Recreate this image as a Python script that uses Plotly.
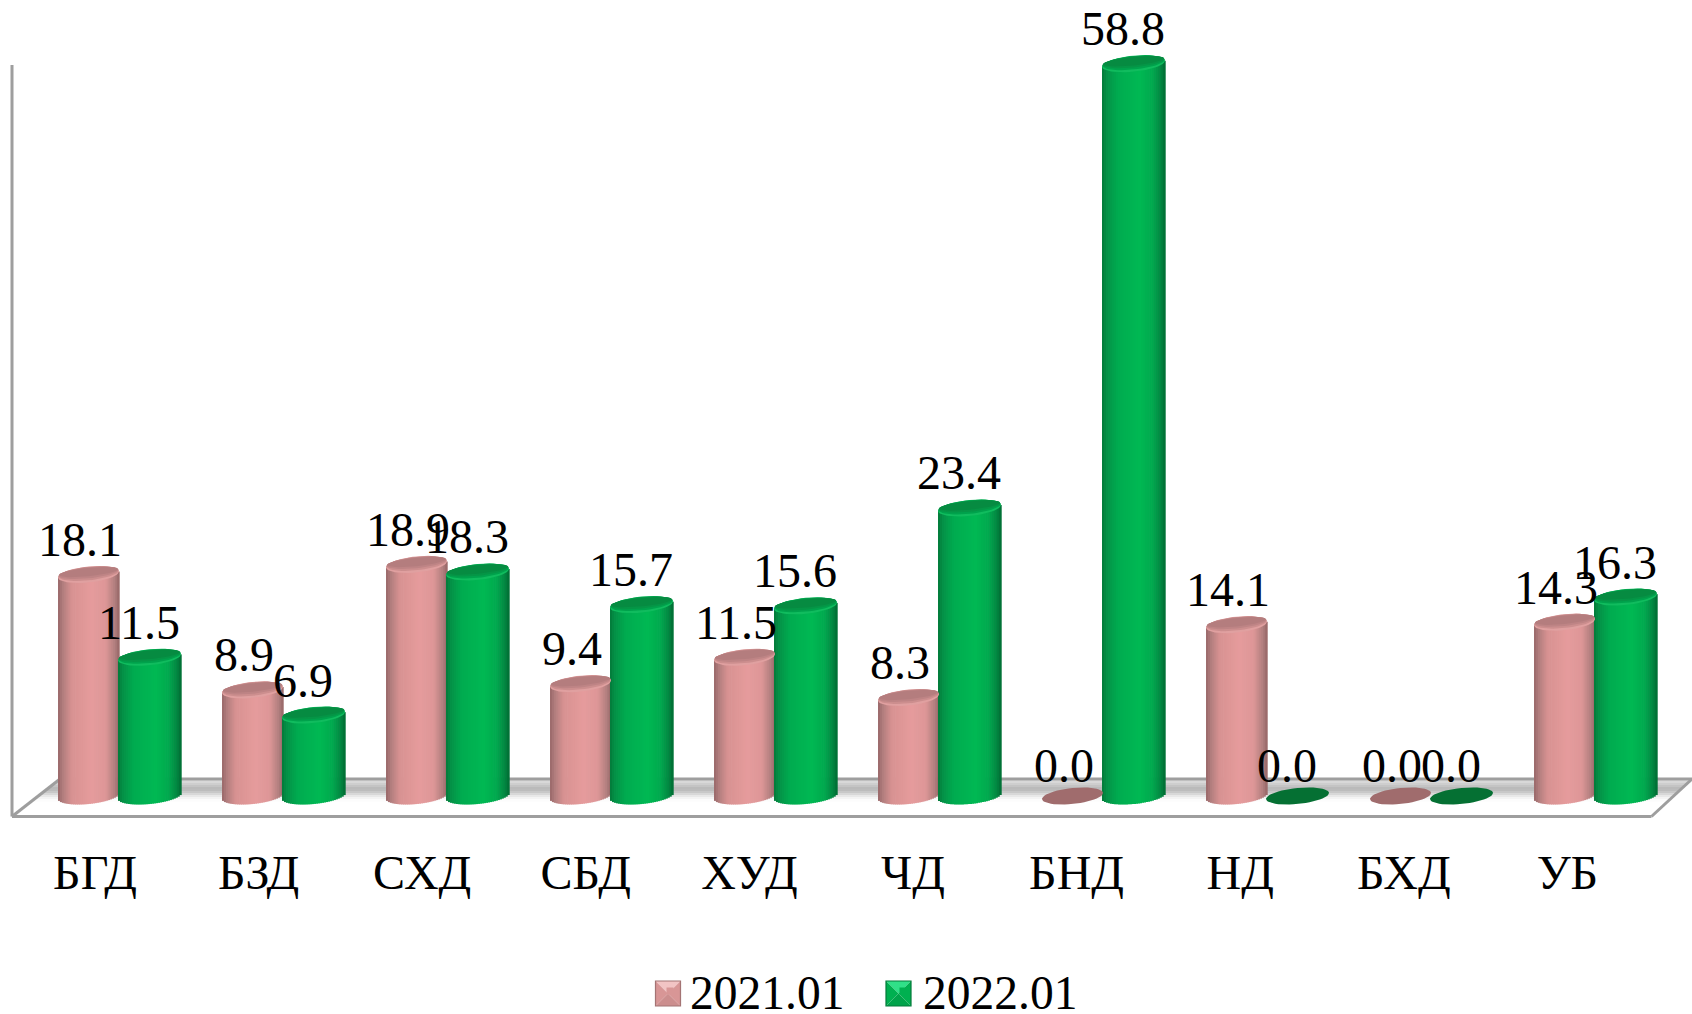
import numpy as np
import plotly.graph_objects as go

categories = ["БГД", "БЗД", "СХД", "СБД", "ХУД", "ЧД", "БНД", "НД", "БХД", "УБ"]
values_2021 = [18.1, 8.9, 18.9, 9.4, 11.5, 8.3, 0.0, 14.1, 0.0, 14.3]
values_2022 = [11.5, 6.9, 18.3, 15.7, 15.6, 23.4, 58.8, 0.0, 0.0, 16.3]
series_names = ["2021.01", "2022.01"]

pink_stops = [(0, "#98686A"), (.08, "#B27E7E"), (.22, "#D89292"), (.55, "#E69C9D"), (.78, "#DE9798"), (.93, "#B27F7F"), (1, "#966666")]
green_stops = [(0, "#037A3A"), (.08, "#059248"), (.25, "#00AC50"), (.6, "#00B954"), (.8, "#00A94E"), (.93, "#008741"), (1, "#006C34")]
pink_caps = ["#E0A0A0", "#CC8E8E", "#BE8485", "#B47D7E"]
green_caps = ["#10BC5E", "#00A24C", "#059546", "#068B41"]
pink_zero, green_zero = "#A06C6D", "#057033"

W, H = 1692, 1014
PLOT_BOTTOM = 820
GROUP_PX = 164
LABEL_STEP_PX = 163.6
FIRST_CENTER = 119.5
ZERO_PX = 801.6
PX_PER_UNIT = 12.55
BASE_LEVEL = (ZERO_PX - 796) / PX_PER_UNIT
FONT = "Liberation Serif"
TEXT_SIZE = 48
GREY = "#9E9E9E"

def hx(c):
    return np.array([int(c[i:i + 2], 16) for i in (1, 3, 5)], float)

def ramp(stops, t):
    for (a, ca), (b, cb) in zip(stops, stops[1:]):
        if t <= b:
            m = hx(ca) + (hx(cb) - hx(ca)) * (t - a) / (b - a)
            return "rgb(%d,%d,%d)" % tuple(m)
    return stops[-1][1]

def dy(p):
    return p / PX_PER_UNIT

fig = go.Figure()

def py(y):
    return 1 - y / PLOT_BOTTOM

def px(x):
    return x / W

def left_edge(y):
    return 60 - (y - 779) * 47 / 37

def right_edge(y):
    return 1692 - (y - 779) * 40 / 37

shapes = []
def poly(pts, fill, line=None, lw=0, layer="below"):
    d = "M " + " L ".join(f"{px(a):.5f},{py(b):.5f}" for a, b in pts) + " Z"
    return dict(type="path", xref="paper", yref="paper", path=d, fillcolor=fill,
                line=dict(color=line or "rgba(0,0,0,0)", width=lw), layer=layer)

shapes.append(poly([(left_edge(779), 779), (right_edge(779), 779), (right_edge(816), 816), (left_edge(816), 816)], "#FFFFFF"))
band = [(779, 224), (781, 216), (783, 206), (785, 196), (787, 186), (789, 188), (791, 200), (793, 216), (795, 232), (797, 244), (799, 252)]
for y, g in band:
    shapes.append(poly([(left_edge(y), y), (right_edge(y), y), (right_edge(y + 2.4), y + 2.4), (left_edge(y + 2.4), y + 2.4)], f"rgb({g},{g},{g})"))
for a, b in [((left_edge(779), 779), (1692, 779)), ((1692, 779), (right_edge(816.5), 816.5)),
             ((12, 816.5), (right_edge(816.5), 816.5)), ((12, 816.5), (left_edge(779), 779)), ((12, 816.5), (12, 65))]:
    shapes.append(dict(type="line", xref="paper", yref="paper", x0=px(a[0]), y0=py(a[1]), x1=px(b[0]), y1=py(b[1]),
                       line=dict(color=GREY, width=3), layer="below"))

A_SHEAR = 3.0
B_RAD = 8.0
T = np.linspace(0, 2 * np.pi, 49)

def cap_xy(cx_px, level, a, shrink=0.0, lift=0.0):
    b = max(B_RAD - shrink, .5)
    xs = (cx_px + a * np.cos(T) - FIRST_CENTER) / GROUP_PX
    ys = level + dy(A_SHEAR * np.cos(T) - b * np.sin(T) + lift)
    return xs, ys

def draw_series(name, vals, left_px, right_px, stops):
    vals = np.array(vals, float)
    idx = np.arange(len(vals))
    cx0 = (left_px + right_px) / 2
    a = (right_px - left_px) / 2
    fig.add_trace(go.Bar(x=idx, y=vals, width=24 / GROUP_PX,
                         offset=(cx0 - 12 - FIRST_CENTER) / GROUP_PX,
                         marker=dict(color=ramp(stops, .5), line=dict(width=0)),
                         showlegend=False, hoverinfo="skip", name=name))
    n = 32
    sx, sy, sb, so, sc = [], [], [], [], []
    w = 2 * a / n
    for i, v in zip(idx, vals):
        if v <= 0:
            continue
        for k in range(n):
            t = (k + .5) / n
            u = 2 * t - 1
            bottom = BASE_LEVEL + dy(A_SHEAR * u - B_RAD * np.sqrt(1 - u * u))
            top = v + dy(A_SHEAR * u)
            sx.append(i)
            sb.append(bottom)
            sy.append(top - bottom)
            so.append((left_px + k * w - FIRST_CENTER) / GROUP_PX)
            sc.append(ramp(stops, t))
    fig.add_trace(go.Bar(x=sx, y=sy, base=sb, offset=so, width=(w + .7) / GROUP_PX,
                         marker=dict(color=sc, line=dict(width=0)),
                         showlegend=False, hoverinfo="skip"))
    return vals, idx, cx0, a

def draw_caps(vals, idx, cx0, a, caps, zero_col):
    for col, shrink, lift in zip(caps, [0, 1.2, 2.4, 3.8], [0, 0.9, 1.7, 2.4]):
        X, Y = [], []
        for i, v in zip(idx, vals):
            if v <= 0:
                continue
            xs, ys = cap_xy(cx0 + i * GROUP_PX, v, a - shrink * .25, shrink, lift)
            X += list(xs) + [None]
            Y += list(ys) + [None]
        fig.add_trace(go.Scatter(x=X, y=Y, mode="lines", fill="toself", fillcolor=col,
                                 line=dict(width=0), showlegend=False, hoverinfo="skip"))
    X, Y = [], []
    for i, v in zip(idx, vals):
        if v <= 0:
            xs, ys = cap_xy(cx0 + i * GROUP_PX, BASE_LEVEL, a)
            X += list(xs) + [None]
            Y += list(ys) + [None]
    if X:
        fig.add_trace(go.Scatter(x=X, y=Y, mode="lines", fill="toself", fillcolor=zero_col,
                                 line=dict(width=0), showlegend=False, hoverinfo="skip"))

p = draw_series(series_names[0], values_2021, 58, 119, pink_stops)
g = draw_series(series_names[1], values_2022, 118, 181, green_stops)
draw_caps(*p, pink_caps, pink_zero)
draw_caps(*g, green_caps, green_zero)

for vals, cx_px in [(values_2021, 80), (values_2022, 139)]:
    fig.add_trace(go.Scatter(
        x=[i + (cx_px - FIRST_CENTER) / GROUP_PX for i in range(len(vals))],
        y=[v + dy(30.5) if v > 0 else BASE_LEVEL + dy(26) for v in vals],
        mode="text", text=[f"{v:.1f}" for v in vals], textposition="middle center",
        textfont=dict(family=FONT, size=TEXT_SIZE, color="#000000"),
        showlegend=False, hoverinfo="skip"))

for name, col in zip(series_names, ["#D89696", "#00B050"]):
    fig.add_trace(go.Scatter(x=[None], y=[None], mode="markers", name=name,
                             marker=dict(symbol="square", size=7, color=col)))

def bevel(x0, y0, s, top, left, right, bottom, edge):
    x1, y1 = x0 + s, y0 + s
    m = (x0 + s / 2, y0 + s / 2)
    return [poly([(x0, y0), (x1, y0), m], top, layer="above"),
            poly([(x0, y0), (x0, y1), m], left, layer="above"),
            poly([(x1, y0), (x1, y1), m], right, layer="above"),
            poly([(x0, y1), (x1, y1), m], bottom, layer="above"),
            poly([(x0, y0), (x1, y0), (x1, y1), (x0, y1)], "rgba(0,0,0,0)", edge, 1.2, layer="above")]

shapes += bevel(655.5, 981, 25, "#F2C4C4", "#D89696", "#D89696", "#CC8E8E", "#A47474")
shapes += bevel(886, 981, 25, "#30E088", "#00B050", "#00B050", "#00A34A", "#047A3A")

fig.update_layout(
    width=W, height=H, autosize=False,
    margin=dict(l=0, r=0, t=0, b=H - PLOT_BOTTOM, pad=0),
    paper_bgcolor="#FFFFFF", plot_bgcolor="rgba(0,0,0,0)",
    barmode="overlay", shapes=shapes, hovermode=False,
    font=dict(family=FONT, color="#000000"),
    xaxis=dict(range=[-FIRST_CENTER / GROUP_PX, (W - FIRST_CENTER) / GROUP_PX],
               tickmode="array",
               tickvals=[(i * LABEL_STEP_PX - 24.5) / GROUP_PX for i in range(len(categories))],
               ticktext=categories, ticks="", showgrid=False, zeroline=False, showline=False,
               tickfont=dict(family=FONT, size=TEXT_SIZE, color="#000000"),
               ticklabelstandoff=20, tickangle=0),
    yaxis=dict(range=[-(PLOT_BOTTOM - ZERO_PX) / PX_PER_UNIT, ZERO_PX / PX_PER_UNIT],
               visible=False),
    legend=dict(orientation="h", x=0.5 + 37 / W, xanchor="center",
                yref="container", y=(H - 991) / H, yanchor="middle",
                font=dict(family=FONT, size=47.5, color="#000000"),
                entrywidth=188, entrywidthmode="pixels",
                bgcolor="rgba(0,0,0,0)", itemclick=False, itemdoubleclick=False),
)
fig.write_html("out.html", config=dict(displayModeBar=False),
               post_script="document.body.style.margin='0';document.body.style.overflow='hidden';")
